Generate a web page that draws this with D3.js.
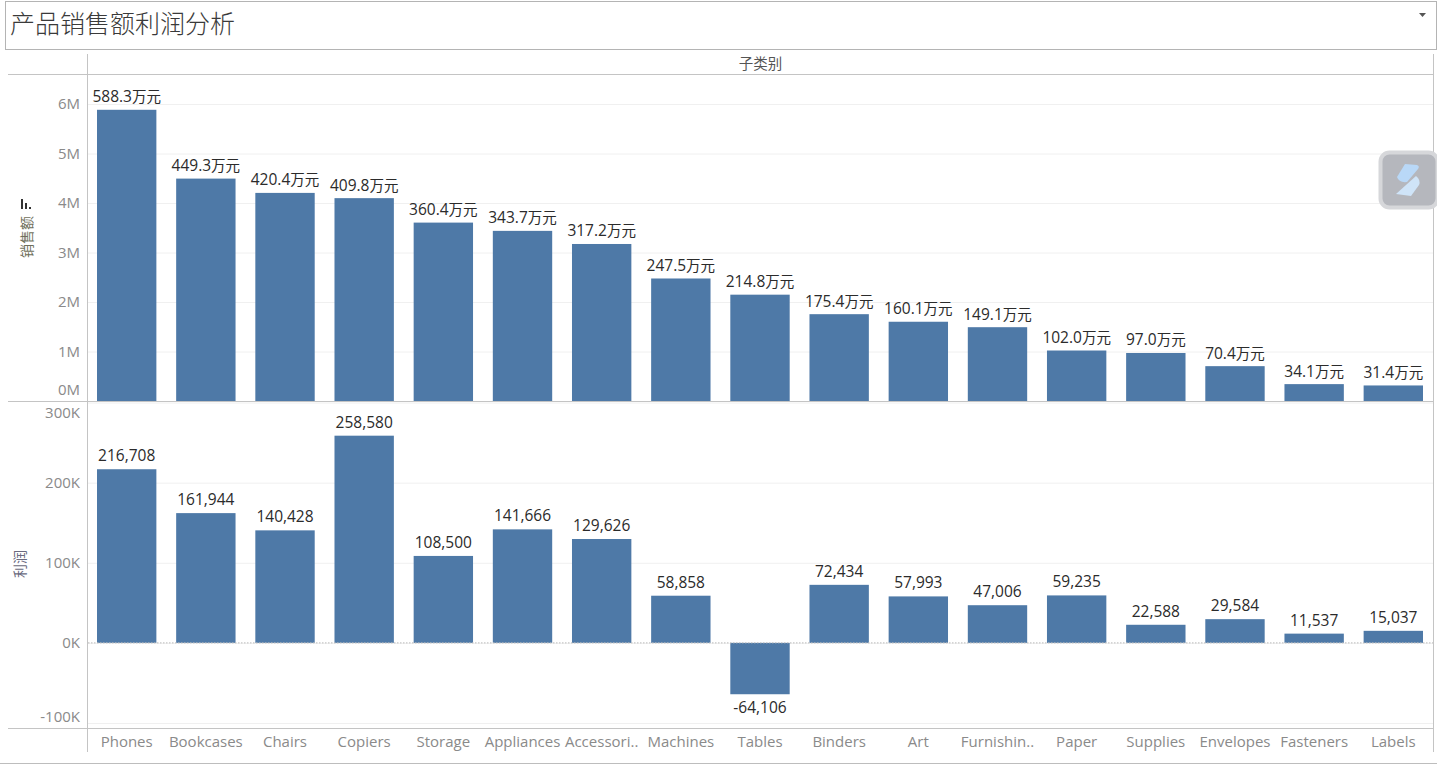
<!DOCTYPE html>
<html><head><meta charset="utf-8">
<script src="https://cdnjs.cloudflare.com/ajax/libs/d3/7.8.5/d3.min.js"></script>
<style>
html,body{margin:0;padding:0;background:#fff;overflow:hidden}
text{font-family:"Open Sans","Noto Sans CJK SC",sans-serif}
</style></head><body>
<svg id="c" width="1437" height="765"></svg>
<script>
const titleText = "产品销售额利润分析";
const headerText = "子类别";
const salesAxisTitle = "销售额";
const profitAxisTitle = "利润";
const categories = ["Phones","Bookcases","Chairs","Copiers","Storage","Appliances","Accessories","Machines","Tables","Binders","Art","Furnishings","Paper","Supplies","Envelopes","Fasteners","Labels"];
const categoryLabels = ["Phones","Bookcases","Chairs","Copiers","Storage","Appliances","Accessori..","Machines","Tables","Binders","Art","Furnishin..","Paper","Supplies","Envelopes","Fasteners","Labels"];
const salesValues = [5883000,4493000,4204000,4098000,3604000,3437000,3172000,2475000,2148000,1754000,1601000,1491000,1020000,970000,704000,341000,314000];
const profitValues = [216708,161944,140428,258580,108500,141666,129626,58858,-64106,72434,57993,47006,59235,22588,29584,11537,15037];
const salesTicks = [0,1e6,2e6,3e6,4e6,5e6,6e6];
const profitTicks = [-100000,0,100000,200000,300000];

const svg = d3.select("#c");
const LINE = "#c4c4c4", BAR = "#4e79a7", AXIS = "#8a8a8a", LABEL = "#2b2b2b";
const hline=(x1,x2,y,c=LINE,w=1)=>svg.append("line").attr("x1",x1).attr("x2",x2).attr("y1",y).attr("y2",y).attr("stroke",c).attr("stroke-width",w);
const vline=(x,y1,y2,c=LINE,w=1)=>svg.append("line").attr("x1",x).attr("x2",x).attr("y1",y1).attr("y2",y2).attr("stroke",c).attr("stroke-width",w);
const fmtInt = d3.formatLocale({decimal:".",thousands:",",grouping:[3],currency:["",""],minus:"-"}).format(",");

// title box
svg.append("rect").attr("x",5.5).attr("y",1.5).attr("width",1431).attr("height",48).attr("fill","#fff").attr("stroke","#b4b4b4");
svg.append("text").attr("x",10).attr("y",33).attr("font-size",25).attr("fill","#3a3a3a").attr("style",'font-family:"Noto Sans CJK SC"').attr("font-weight",300).text(titleText);
svg.append("path").attr("d",d3.line()([[1419,13],[1426,13],[1422.5,17]])).attr("fill","#555");

// scales
const x = d3.scaleBand().domain(categories).range([97,1423]).paddingInner(0.25).paddingOuter(0);
const yS = d3.scaleLinear().domain([0,6e6]).range([401,104]);
const yP = d3.scaleLinear().domain([-100000,300000]).range([723,402.5]);

// axes + gridlines
function axis(scale,ticks,fmt,shift){
  const g = svg.append("g").attr("transform","translate(87,0)")
    .call(d3.axisLeft(scale).tickValues(ticks).tickFormat(fmt).tickSize(-1346).tickPadding(7));
  g.select(".domain").remove();
  g.selectAll(".tick line").attr("stroke","#f0f0f0");
  g.selectAll(".tick text").attr("fill",AXIS).attr("font-size",15).attr("y",d=>shift[d]||0).attr("dy","0.3em");
  return g;
}
axis(yS,salesTicks,d=>d/1e6+"M",{0:-11});
axis(yP,profitTicks,d=>d/1000+"K",{300000:10,"-100000":-6});

// bars
svg.append("g").selectAll("rect").data(categories).join("rect")
  .attr("x",d=>x(d)).attr("width",x.bandwidth())
  .attr("y",(d,i)=>yS(salesValues[i])).attr("height",(d,i)=>yS(0)-yS(salesValues[i])).attr("fill",BAR);
svg.append("g").selectAll("rect").data(categories).join("rect")
  .attr("x",d=>x(d)).attr("width",x.bandwidth())
  .attr("y",(d,i)=>yP(Math.max(0,profitValues[i]))).attr("height",(d,i)=>Math.abs(yP(profitValues[i])-yP(0))).attr("fill",BAR);

// bar labels
const salesLabels = svg.append("g").selectAll("text").data(categories).join("text")
  .attr("x",d=>x(d)+x.bandwidth()/2).attr("y",(d,i)=>yS(salesValues[i])-7.5)
  .attr("text-anchor","middle").attr("font-size",15.5).attr("fill",LABEL)
  .text((d,i)=>(salesValues[i]/10000).toFixed(1));
salesLabels.append("tspan").attr("font-size",14.5).attr("style",'font-family:"Noto Sans CJK SC"').text("万元");
svg.append("g").selectAll("text").data(categories).join("text")
  .attr("x",d=>x(d)+x.bandwidth()/2)
  .attr("y",(d,i)=>profitValues[i]<0?yP(profitValues[i])+19:yP(profitValues[i])-8)
  .attr("text-anchor","middle").attr("font-size",15.5).attr("fill",LABEL)
  .text((d,i)=>fmtInt(profitValues[i]));

// category labels
svg.append("g").selectAll("text").data(categories).join("text")
  .attr("x",d=>x(d)+x.bandwidth()/2).attr("y",747)
  .attr("text-anchor","middle").attr("font-size",15).attr("fill",AXIS)
  .text((d,i)=>categoryLabels[i]);

// frame lines
vline(87.5,54,752); vline(1433.5,54,752);
hline(8,1433,74.5); hline(8,1433,401.5); hline(8,1433,728.5);
hline(0,1437,763.5,"#bdbdbd");
svg.append("line").attr("x1",88).attr("x2",1433).attr("y1",yP(0)).attr("y2",yP(0)).attr("stroke","#bbb").attr("stroke-dasharray","1.5 1.5");

// header and axis titles
svg.append("text").attr("x",760.5).attr("y",69).attr("text-anchor","middle").attr("font-size",14.5).attr("fill","#555").attr("style",'font-family:"Noto Sans CJK SC"').text(headerText);
svg.append("text").attr("transform","translate(32,258) rotate(-90)").attr("font-size",14).attr("fill","#6f6f5a").attr("style",'font-family:"Noto Sans CJK SC"').text(salesAxisTitle);
svg.append("text").attr("transform","translate(25,578) rotate(-90)").attr("font-size",14).attr("fill","#6a6a80").attr("style",'font-family:"Noto Sans CJK SC"').text(profitAxisTitle);
// sort glyph
svg.append("g").attr("fill","#333").selectAll("rect").data([[21,199,2,10],[25,203,2,6],[29,207,2,2]]).join("rect")
  .attr("x",d=>d[0]).attr("y",d=>d[1]).attr("width",d=>d[2]).attr("height",d=>d[3]);

// floating widget
svg.append("rect").attr("x",1380.5).attr("y",152.5).attr("width",57).attr("height",55).attr("rx",9).attr("fill","#b5b7bd").attr("stroke","#d6d7da").attr("stroke-width",4);
svg.append("path").attr("d","M1405 164 L1417 165 Q1420 166 1418 169 L1407 182 Q1399 183 1397 177 Z").attr("fill","#b9d8f7");
svg.append("path").attr("d","M1416 176 Q1421 180 1419 185 L1411 196 L1396 194 Z").attr("fill","#cfe4f8");
</script>
</body></html>
